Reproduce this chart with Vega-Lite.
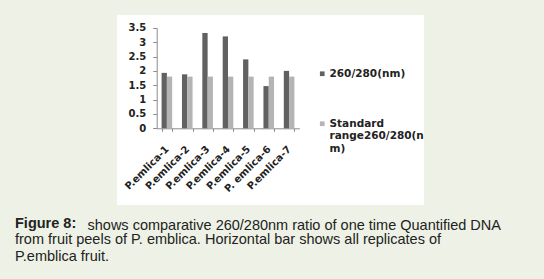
{
  "$schema": "https://vega.github.io/schema/vega-lite/v6.json",
  "autosize": "none",
  "width": 307,
  "height": 190,
  "padding": {"left": 117, "top": 15, "right": 120, "bottom": 74},
  "background": "#eef2e6",
  "title": {
    "text": "Figure 8:",
    "subtitle": [
      "from fruit peels of P. emblica. Horizontal bar shows all replicates of",
      "P.emblica fruit."
    ],
    "orient": "bottom",
    "anchor": "start",
    "frame": "group",
    "dx": -102,
    "offset": -14.5,
    "font": "Liberation Sans",
    "fontSize": 14.5,
    "fontWeight": "bold",
    "color": "#222222",
    "subtitleFont": "Liberation Sans",
    "subtitleFontSize": 14.5,
    "subtitleColor": "#222222",
    "subtitleLineHeight": 16.3,
    "subtitlePadding": 1.8
  },
  "data": {
    "values": [
      {"sample": "P.emlica-1", "series": "260/280(nm)", "value": 1.93},
      {"sample": "P.emlica-2", "series": "260/280(nm)", "value": 1.88},
      {"sample": "P.emlica-3", "series": "260/280(nm)", "value": 3.32},
      {"sample": "P.emlica-4", "series": "260/280(nm)", "value": 3.2},
      {"sample": "P.emlica-5", "series": "260/280(nm)", "value": 2.4},
      {"sample": "P. emlica-6", "series": "260/280(nm)", "value": 1.47},
      {"sample": "P.emlica-7", "series": "260/280(nm)", "value": 2.0},
      {"sample": "P.emlica-1", "series": "Standard range260/280(nm)", "value": 1.8},
      {"sample": "P.emlica-2", "series": "Standard range260/280(nm)", "value": 1.8},
      {"sample": "P.emlica-3", "series": "Standard range260/280(nm)", "value": 1.8},
      {"sample": "P.emlica-4", "series": "Standard range260/280(nm)", "value": 1.8},
      {"sample": "P.emlica-5", "series": "Standard range260/280(nm)", "value": 1.8},
      {"sample": "P. emlica-6", "series": "Standard range260/280(nm)", "value": 1.8},
      {"sample": "P.emlica-7", "series": "Standard range260/280(nm)", "value": 1.8}
    ]
  },
  "mark": {"type": "bar"},
  "encoding": {
    "x": {
      "field": "sample",
      "type": "nominal",
      "sort": ["P.emlica-1", "P.emlica-2", "P.emlica-3", "P.emlica-4", "P.emlica-5", "P. emlica-6", "P.emlica-7"],
      "scale": {"range": [39.7, 182.3], "paddingInner": 0.48, "paddingOuter": 0.24},
      "axis": {
        "title": "shows comparative 260/280nm ratio of one time Quantified DNA",
        "titleX": -30,
        "titleY": 89.7,
        "titleAlign": "left",
        "titleBaseline": "top",
        "titleAngle": 0,
        "titleFont": "Liberation Sans",
        "titleFontSize": 14.5,
        "titleFontWeight": "normal",
        "titleColor": "#222222",
        "orient": "bottom",
        "offset": -76.7,
        "labelAngle": -45,
        "labelAlign": "right",
        "labelBaseline": "middle",
        "labelPadding": 16,
        "labelFont": "DejaVu Sans",
        "labelFontWeight": "bold",
        "labelFontSize": 10,
        "labelColor": "#222222",
        "tickSize": 3,
        "tickColor": "#8c8c8c",
        "domainColor": "#8c8c8c",
        "tickBand": "extent",
        "grid": false
      }
    },
    "xOffset": {
      "field": "series",
      "type": "nominal",
      "sort": ["260/280(nm)", "Standard range260/280(nm)"],
      "scale": {"paddingInner": 0, "paddingOuter": 0}
    },
    "y": {
      "field": "value",
      "type": "quantitative",
      "scale": {"domain": [0, 3.5], "range": [113.3, 12.8], "nice": false, "zero": true},
      "axis": {
        "title": null,
        "offset": -39.7,
        "values": [0, 0.5, 1, 1.5, 2, 2.5, 3, 3.5],
        "format": "~g",
        "grid": false,
        "labelFont": "DejaVu Sans",
        "labelFontWeight": "bold",
        "labelFontSize": 10,
        "labelColor": "#222222",
        "labelPadding": 7,
        "tickSize": 4,
        "tickColor": "#8c8c8c",
        "domainColor": "#8c8c8c"
      }
    },
    "color": {
      "field": "series",
      "type": "nominal",
      "sort": ["260/280(nm)", "Standard range260/280(nm)"],
      "scale": {"domain": ["260/280(nm)", "Standard range260/280(nm)"], "range": ["#616161", "#b4b4b4"]},
      "legend": {
        "title": null,
        "orient": "none",
        "legendX": 200,
        "legendY": 53.5,
        "padding": 0,
        "symbolType": "square",
        "symbolSize": 22,
        "symbolStrokeWidth": 0,
        "labelFont": "DejaVu Sans",
        "labelFontWeight": "bold",
        "labelFontSize": 10.5,
        "labelColor": "#222222",
        "labelOffset": 2,
        "labelLimit": 200,
        "rowPadding": 39,
        "labelExpr": "datum.label == 'Standard range260/280(nm)' ? ['Standard', 'range260/280(n', 'm)'] : datum.label"
      }
    }
  },
  "config": {
    "view": {"fill": "white", "stroke": null}
  }
}
